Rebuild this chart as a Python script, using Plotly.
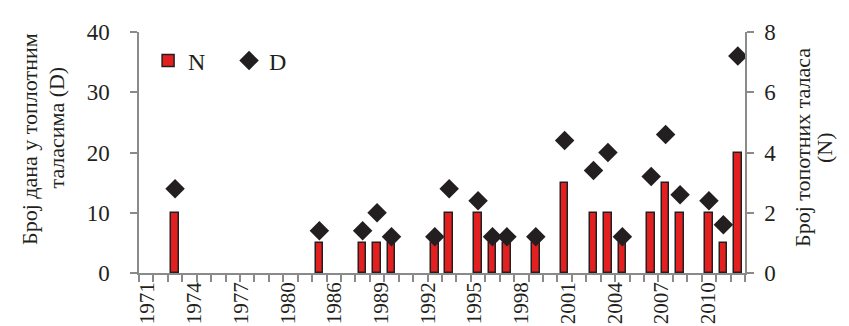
import plotly.graph_objects as go

# Data (years with heat waves)
years = [1973, 1983, 1986, 1987, 1988, 1991, 1992, 1994, 1995, 1996, 1998,
         2000, 2002, 2003, 2004, 2006, 2007, 2008, 2010, 2011, 2012]
N_values = [2, 1, 1, 1, 1, 1, 2, 2, 1, 1, 1,
            3, 2, 2, 1, 2, 3, 2, 2, 1, 4]
D_values = [14, 7, 7, 10, 6, 6, 14, 12, 6, 6, 6,
            22, 17, 20, 6, 16, 23, 13, 12, 8, 36]
year_labels = ["1971", "1974", "1977", "1980", "1986", "1989", "1992",
               "1995", "1998", "2001", "2004", "2007", "2010"]

FONT = "Liberation Serif"
DARK = "#231f20"
GRAY = "#8a8a8a"
RED = "#e3201f"

fig = go.Figure()
fig.add_trace(go.Bar(
    x=years, y=N_values, name="N", xaxis="x", yaxis="y",
    width=0.52,
    marker=dict(color=RED, line=dict(color=DARK, width=1.5)),
))
fig.add_trace(go.Scatter(
    x=years, y=D_values, name="D", xaxis="x", yaxis="y2",
    mode="markers",
    marker=dict(symbol="diamond", size=15, color=DARK),
))
# empty helper trace so the label axis is drawn
fig.add_trace(go.Scatter(x=[], y=[], xaxis="x2", yaxis="y", showlegend=False,
                         hoverinfo="skip", mode="markers"))

axis_common = dict(showgrid=False, zeroline=False, showline=True,
                   linecolor=GRAY, linewidth=1.5, ticks="outside",
                   ticklen=7, tickcolor=GRAY, tickwidth=1.5, automargin=False,
                   tickfont=dict(family=FONT, size=23, color=DARK))

fig.update_layout(
    width=849, height=326,
    margin=dict(l=131, r=112, t=24, b=61),
    paper_bgcolor="white", plot_bgcolor="white",
    font=dict(family=FONT, color=DARK),
    showlegend=True,
    bargap=0,
    xaxis=dict(range=[1970.5, 2012.5], tickmode="linear", tick0=1970.5, dtick=1,
               showticklabels=False, **{k: v for k, v in axis_common.items() if k != "tickfont"}),
    xaxis2=dict(overlaying="x", anchor="y", side="bottom", automargin=False,
                range=[-0.182, 12.786], tickmode="array",
                tickvals=list(range(len(year_labels))), ticktext=year_labels,
                tickangle=-90, ticks="", showline=False, showgrid=False, zeroline=False,
                ticklabelstandoff=4,
                tickfont=dict(family=FONT, size=21, color=DARK)),
    yaxis=dict(range=[0, 8], dtick=2, side="right", ticklabelstandoff=6, **axis_common),
    yaxis2=dict(range=[0, 40], dtick=10, side="left", overlaying="y", anchor="x",
                ticklabelstandoff=16, **axis_common),
    legend=dict(orientation="h", x=0.015, y=0.88, xanchor="left", yanchor="middle",
                font=dict(family=FONT, size=24, color=DARK),
                bgcolor="rgba(0,0,0,0)", entrywidth=36, entrywidthmode="pixels"),
)

W = 606.0
H = 241.0
L = 131.0
B = 265.0
def px(x):
    return (x - L) / W
def py(y):
    return (B - y) / H

titles = [
    ("Број дана у топлотним", 21, 131),
    ("таласима (D)", 48, 119.5),
    ("Број топотних таласа", 794, 140),
    ("(N)", 816, 140),
]
for text, xx, yy in titles:
    fig.add_annotation(text=text, xref="paper", yref="paper", x=px(xx), y=py(yy),
                       xanchor="center", yanchor="middle", textangle=-90,
                       showarrow=False, font=dict(family=FONT, size=22, color=DARK))

fig.write_html("out.html")
